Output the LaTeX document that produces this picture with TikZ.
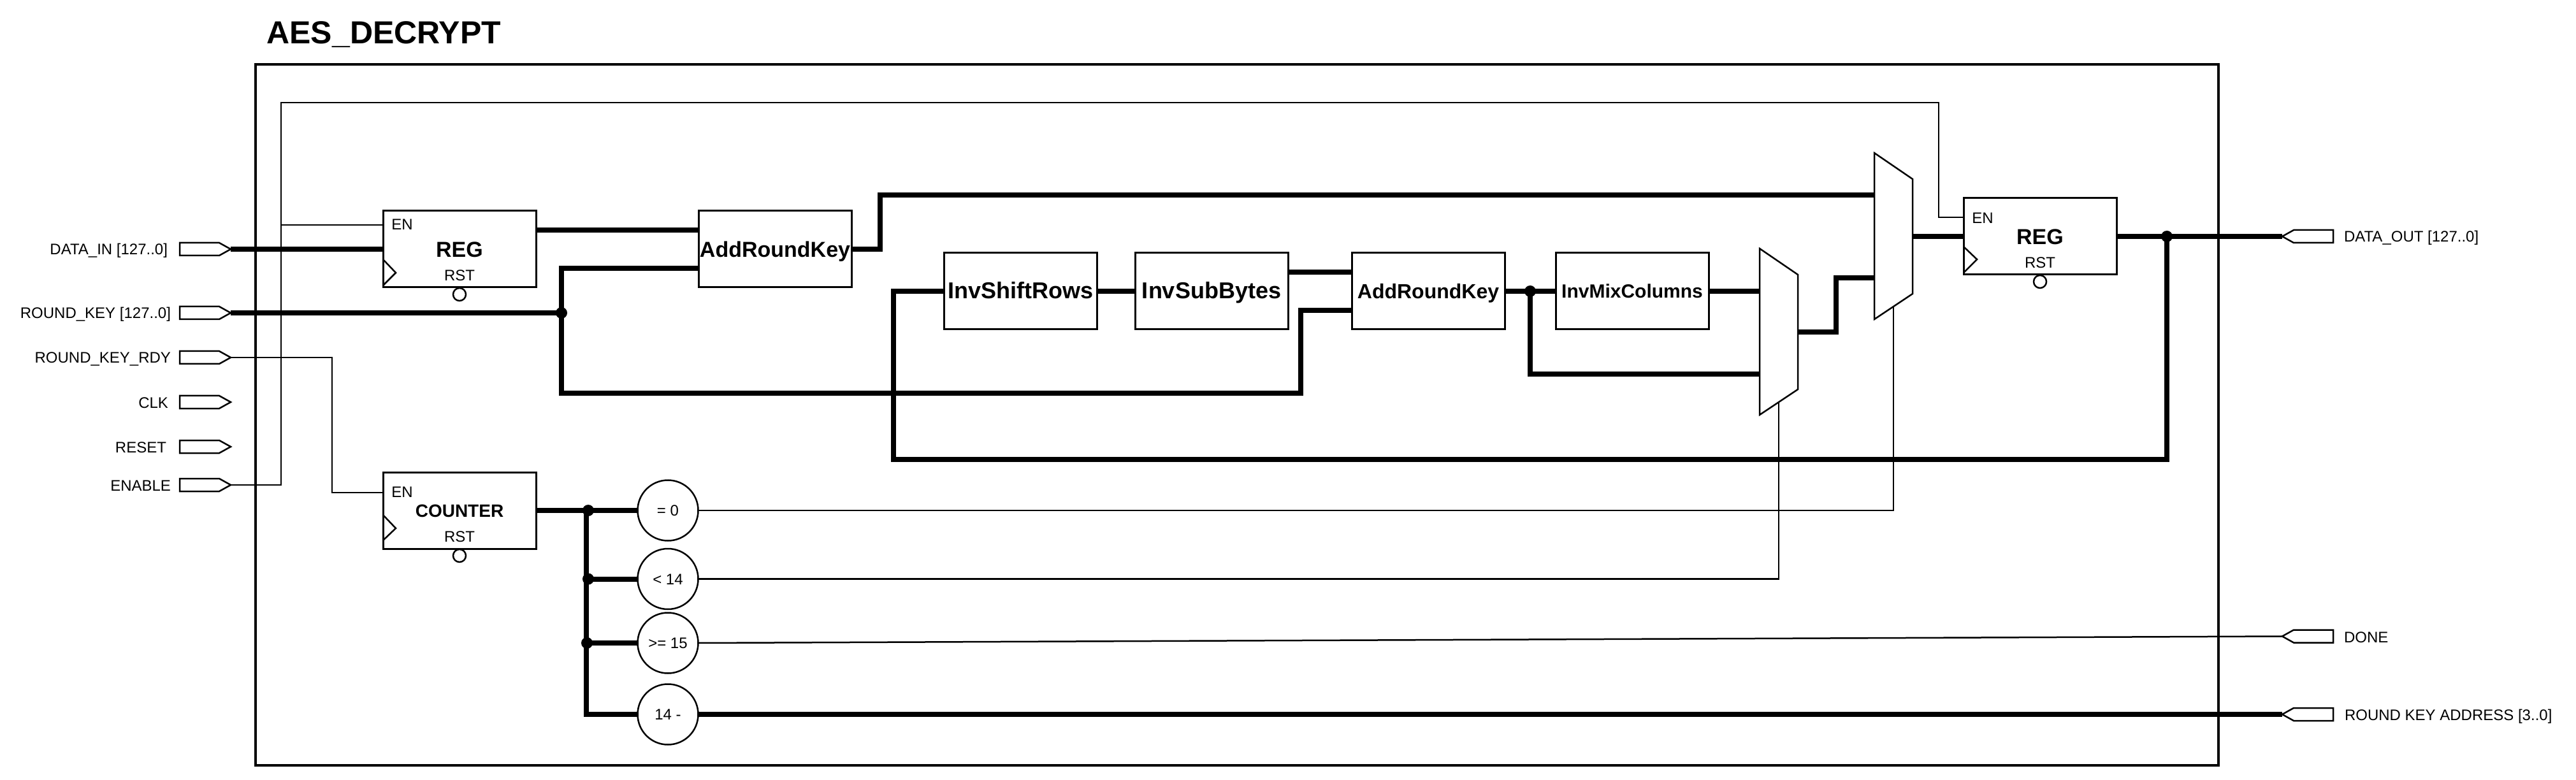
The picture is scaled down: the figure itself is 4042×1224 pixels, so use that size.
\documentclass[tikz,border=0pt]{standalone}
\usepackage{fontspec}
\setmainfont{Liberation Sans}
\usetikzlibrary{calc,shapes.geometric,shapes.symbols}
\tikzset{
  frameline/.style={draw=black,line width=2pt},
  thickwire/.style={draw=black,line width=4pt},
  thinwire/.style={draw=black,line width=1.25pt},
  blockbox/.style={draw=black,line width=1.5pt,fill=white,rectangle,minimum width=120pt,minimum height=60pt,inner sep=0pt,outer sep=0pt,align=center},
  regbox/.style={blockbox,font=\fontsize{17}{20}\selectfont\bfseries,text height=12.2pt,text depth=0pt},
  fontK/.style={font=\fontsize{17}{20}\selectfont\bfseries,text height=12.2pt,text depth=0pt},
  fontA/.style={font=\fontsize{18}{20}\selectfont\bfseries,text height=12.9pt,text depth=1pt},
  fontB/.style={font=\fontsize{16}{20}\selectfont\bfseries,text height=11.5pt,text depth=0pt},
  fontC/.style={font=\fontsize{15}{20}\selectfont\bfseries,text height=10.7pt,text depth=0pt},
  smalltext/.style={font=\fontsize{12}{14}\selectfont,inner sep=0pt,outer sep=0pt},
  pinlabel/.style={smalltext,text height=8.6pt,text depth=0pt,anchor=center},
  plabelL/.style={smalltext,anchor=base east},
  plabelR/.style={smalltext,anchor=base west},
  compare/.style={ellipse,draw=black,line width=1.25pt,fill=white,minimum width=47.5pt,minimum height=47.5pt,inner sep=0pt,outer sep=0pt,font=\fontsize{12}{14}\selectfont,text height=8.6pt,text depth=0pt},
  bubble/.style={circle,draw=black,line width=1.25pt,fill=white,minimum size=10pt,inner sep=0pt,outer sep=0pt},
  dot/.style={circle,fill=black,minimum size=9pt,inner sep=0pt,outer sep=0pt},
  portin/.style={signal,signal to=east,draw=black,line width=1.25pt,fill=white,minimum width=40pt,minimum height=10pt,inner sep=0pt,outer sep=0pt,signal pointer angle=58},
  portout/.style={signal,signal to=west,draw=black,line width=1.25pt,fill=white,minimum width=40pt,minimum height=10pt,inner sep=0pt,outer sep=0pt,signal pointer angle=58},
  clockedge/.style={draw=black,line width=1.25pt},
  muxshape/.style={draw=black,line width=1.25pt,fill=white,line join=miter},
}
\begin{document}
\begin{tikzpicture}[x=0.5pt,y=-0.5pt]
\useasboundingbox (0,0) rectangle (4042,1224);
\fill[white] (0,0) rectangle (4042,1224);
% title and frame
\node[font=\fontsize{25}{28}\selectfont\bfseries,inner sep=0pt,anchor=base west] (title) at (418,69) {AES\_DECRYPT};
\draw[frameline] (401,101) rectangle (3481,1201);

% input ports
\node[portin] (pdata) at (313,391) {};
\node[portin] (pkey) at (313,491) {};
\node[portin] (prdy) at (313,561) {};
\node[portin] (pclk) at (313,631) {};
\node[portin] (prst) at (313,701) {};
\node[portin] (pen) at (313,761) {};
\node[plabelL] (ldata) at (263,400) {DATA\_IN [127..0]};
\node[plabelL] (lkey) at (268,500) {ROUND\_KEY [127..0]};
\node[plabelL] (lrdy) at (268,570) {ROUND\_KEY\_RDY};
\node[plabelL] (lclk) at (264,640) {CLK};
\node[plabelL] (lrst) at (261,710) {RESET};
\node[plabelL] (len) at (268,770) {ENABLE};

% output ports
\node[portout] (pout) at (3630,371) {};
\node[portout] (pdone) at (3630,998.5) {};
\node[portout] (paddr) at (3630,1121) {};
\node[plabelR] (lout) at (3678,380) {DATA\_OUT [127..0]};
\node[plabelR] (ldone) at (3678,1008) {DONE};
\node[plabelR] (laddr) at (3679,1130) {ROUND KEY ADDRESS [3..0]};

% blocks
\node[regbox] (reg1) at (721,391) {REG};
\node[blockbox,fontK] (ark1) at (1216,391) {AddRoundKey};
\node[blockbox,fontA] (shift) at (1601,457) {InvShiftRows};
\node[blockbox,fontA] (sub) at (1901,457) {InvSubBytes};
\node[blockbox,fontB] (ark2) at (2241,457) {AddRoundKey};
\node[blockbox,fontC] (mix) at (2561,457) {InvMixColumns};
\node[regbox] (reg2) at (3201,371) {REG};
\node[blockbox,font=\fontsize{14}{16}\selectfont\bfseries,text height=10pt,text depth=0pt] (cnt) at (721,801) {COUNTER};

% register details
\node[pinlabel] (en1) at (631,352) {EN};
\node[pinlabel] (rst1) at (721,432) {RST};
\node[bubble] (b1) at (721,462) {};
\draw[clockedge] (reg1.west |- 0,407) coordinate (c1a) -- (621,428) coordinate (c1b) -- (reg1.west |- 0,448) coordinate (c1c);
\node[pinlabel] (en2) at (3111,342) {EN};
\node[pinlabel] (rst2) at (3201,412) {RST};
\node[bubble] (b2) at (3201,442) {};
\draw[clockedge] (reg2.west |- 0,387) coordinate (c2a) -- (3102,407) coordinate (c2b) -- (reg2.west |- 0,428) coordinate (c2c);
\node[pinlabel] (en3) at (631,772) {EN};
\node[pinlabel] (rst3) at (721,842) {RST};
\node[bubble] (b3) at (721,872) {};
\draw[clockedge] (cnt.west |- 0,808) coordinate (c3a) -- (621,829) coordinate (c3b) -- (cnt.west |- 0,848) coordinate (c3c);

% muxes
\draw[muxshape] (2761,390) coordinate (m1tl) -- (2821,431) coordinate (m1tr) -- (2821,611) coordinate (m1br) -- (2761,651) coordinate (m1bl) -- cycle;
\draw[muxshape] (2941,240) coordinate (m2tl) -- (3001,281) coordinate (m2tr) -- (3001,461) coordinate (m2br) -- (2941,501) coordinate (m2bl) -- cycle;
\coordinate (m1s) at ($(m1br)!0.5!(m1bl)$);
\coordinate (m2s) at ($(m2br)!0.5!(m2bl)$);

% comparators
\node[compare] (e0) at (1048,801) {= 0};
\node[compare] (e14) at (1048,908.5) {< 14};
\node[compare] (e15) at (1048,1009) {>= 15};
\node[compare] (esub) at (1048,1121) {14 -};

% thin wires
\coordinate (enbus) at (441,761);
\coordinate (entop) at (441,161);
\coordinate (entr) at (3042,161);
\coordinate (enpin2) at (3042,341);
\coordinate (enpin1) at (441,353);
\draw[thinwire] (pen.east) -- (enbus) -- (entop) -- (entr) -- (enpin2) -- (reg2.west |- enpin2);
\draw[thinwire] (enpin1) -- (reg1.west |- enpin1);
\coordinate (rdy1) at (521,561);
\coordinate (rdy2) at (521,773);
\draw[thinwire] (prdy.east) -- (rdy1) -- (rdy2) -- (cnt.west |- rdy2);
\coordinate (s0c) at (2971,801);
\draw[thinwire] (e0.east) -- (s0c) -- (m2s);
\coordinate (s14c) at (2791,908.5);
\draw[thinwire] (e14.east) -- (s14c) -- (m1s);
\draw[thinwire] (e15.east) -- (pdone.west);

% thick wires
\draw[thickwire] (pdata.east) -- (reg1.west);
\coordinate (kj) at (881,491);
\draw[thickwire] (pkey.east) -- (kj);
\coordinate (a1a) at (1096,361);
\draw[thickwire] (reg1.east |- a1a) -- (a1a);
\coordinate (a1b) at (1096,421);
\coordinate (k1) at (881,421);
\coordinate (k2) at (881,617);
\coordinate (k3) at (2041,617);
\coordinate (k4) at (2041,487);
\draw[thickwire] (ark1.west |- a1b) -- (k1) -- (k2) -- (k3) -- (k4) -- (ark2.west |- k4);
\coordinate (o1) at (1381,391);
\coordinate (o2) at (1381,306);
\coordinate (m2a) at (2941,306);
\draw[thickwire] (ark1.east) -- (o1) -- (o2) -- (m2a);
\coordinate (sa) at (1402,457);
\coordinate (sb) at (1402,721);
\coordinate (sc) at (3400,721);
\coordinate (sd) at (3400,371);
\draw[thickwire] (shift.west) -- (sa) -- (sb) -- (sc) -- (sd);
\draw[thickwire] (shift.east) -- (sub.west);
\coordinate (s2) at (2021,427);
\draw[thickwire] (s2) -- (ark2.west |- s2);
\draw[thickwire] (ark2.east) -- (mix.west);
\coordinate (aj) at (2401,457);
\coordinate (ad) at (2401,587);
\coordinate (m1b) at (2761,587);
\draw[thickwire] (aj) -- (ad) -- (m1b);
\coordinate (m1a) at (2761,457);
\draw[thickwire] (mix.east) -- (m1a);
\coordinate (mo1) at (2821,521);
\coordinate (mo2) at (2881,521);
\coordinate (mo3) at (2881,436.5);
\coordinate (m2b) at (2941,436.5);
\draw[thickwire] (mo1) -- (mo2) -- (mo3) -- (m2b);
\coordinate (m2o) at (3001,371);
\draw[thickwire] (m2o) -- (reg2.west);
\draw[thickwire] (reg2.east) -- (pout.west);
\coordinate (c0) at (920,801);
\coordinate (c1) at (920,908.5);
\coordinate (c2) at (920,1009);
\coordinate (c3) at (920,1121);
\draw[thickwire] (cnt.east) -- (e0.west);
\draw[thickwire] (c0) -- (c3) -- (esub.west);
\draw[thickwire] (c1) -- (e14.west);
\draw[thickwire] (c2) -- (e15.west);
\draw[thickwire] (esub.east) -- (paddr.west);

% junction dots
\node[dot] (d1) at (kj) {};
\node[dot] (d2) at (aj) {};
\node[dot] (d3) at (sd) {};
\node[dot] (d4) at (923,801) {};
\node[dot] (d5) at (923,908.5) {};
\node[dot] (d6) at (921,1009) {};
\end{tikzpicture}
\end{document}
